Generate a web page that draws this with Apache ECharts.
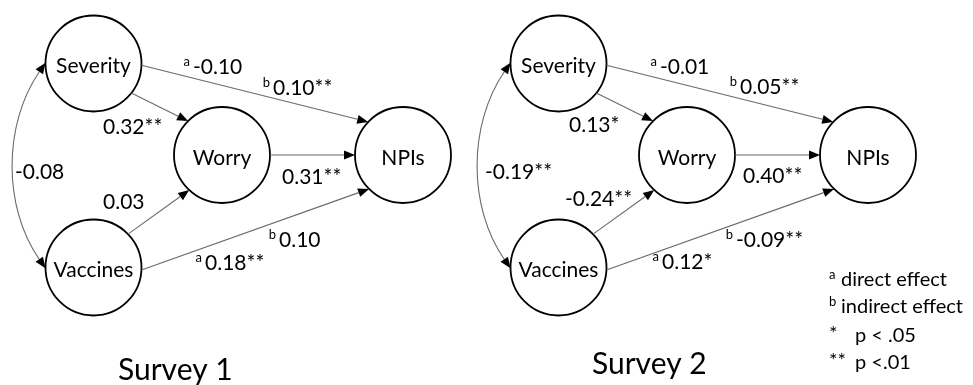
<!DOCTYPE html>
<html><head><meta charset="utf-8">
<script src="https://cdn.jsdelivr.net/npm/echarts@6/dist/echarts.min.js"></script>
<style>html,body{margin:0;padding:0;background:#fff}#c{width:973px;height:385px}</style>
</head><body><div id="c"></div>
<script>
// ---------------- data ----------------
const surveys = ['Survey 1', 'Survey 2'];
const nodeNames = ['Severity', 'Worry', 'NPIs', 'Vaccines'];
const severityToWorry = ['0.32**', '0.13*'];
const vaccinesToWorry = ['0.03', '-0.24**'];
const worryToNPIs = ['0.31**', '0.40**'];
const severityToNPIsDirect = ['-0.10', '-0.01'];
const severityToNPIsIndirect = ['0.10**', '0.05**'];
const vaccinesToNPIsDirect = ['0.18**', '0.12*'];
const vaccinesToNPIsIndirect = ['0.10', '-0.09**'];
const severityVaccinesCov = ['-0.08', '-0.19**'];
const legendMarks = ['a', 'b', '*', '**'];
const legendTexts = ['direct effect', 'indirect effect', 'p < .05', 'p <.01'];

// ---------------- layout (axis units, 1 unit = 1 px) ----------------
const FONT = 'Lato';
const R = 48;
const panelDx = [0, 465];
const nodePos = { Severity: [93.5, 63.5], Worry: [222, 155], NPIs: [403, 155], Vaccines: [93.5, 267.5] };
const pathLayout = [ // from, to, exit angle, entry angle (deg, clockwise from +x)
  ['Severity', 'NPIs', 2, -136.5],
  ['Severity', 'Worry', 38, -135],
  ['Worry', 'NPIs', 0, 180],
  ['Vaccines', 'Worry', -44, 133],
  ['Vaccines', 'NPIs', 3, 135]
];
const covLayout = { from: 'Severity', to: 'Vaccines', a0: 181, a1: 179, c1: [3, 125], c2: [3, 207] };
// label anchors [left, middle] per survey
const labelLayout = {
  sevNPIdir: [[193, 67], [660, 67]],
  sevNPIind: [[273, 88], [740, 87]],
  sevWorry: [[103, 127], [569, 125]],
  cov: [[15, 172], [485, 172]],
  worryNPI: [[282, 177], [743, 176]],
  vacWorry: [[103, 202], [565, 199]],
  vacNPIind: [[279, 240], [736, 240]],
  vacNPIdir: [[205, 263], [662, 262]]
};
const titleLayout = [[118, 370], [592, 364]];
const legendLayout = { markX: 829, textX: 841, starTextX: 855, ys: [280, 307, 336, 363] };

// ---------------- build marks ----------------
const rad = d => d * Math.PI / 180;
function onCircle(c, dx, ang) { return [c[0] + dx + R * Math.cos(rad(ang)), c[1] + R * Math.sin(rad(ang))]; }

const edgeSpecs = [];
surveys.forEach((s, i) => {
  const dx = panelDx[i];
  pathLayout.forEach(([f, t, a0, a1]) => {
    edgeSpecs.push({ kind: 'line', p0: onCircle(nodePos[f], dx, a0), p1: onCircle(nodePos[t], dx, a1) });
  });
  edgeSpecs.push({
    kind: 'curve',
    p0: onCircle(nodePos[covLayout.from], dx, covLayout.a0),
    p1: onCircle(nodePos[covLayout.to], dx, covLayout.a1),
    c1: [covLayout.c1[0] + dx, covLayout.c1[1]],
    c2: [covLayout.c2[0] + dx, covLayout.c2[1]]
  });
});
const edgeData = edgeSpecs.map(e => [e.p0[0], e.p0[1], e.p1[0], e.p1[1]]);

const nodeData = [];
surveys.forEach((s, i) => {
  nodeNames.forEach(n => nodeData.push({ name: n, value: [nodePos[n][0] + panelDx[i], nodePos[n][1]] }));
});

const textSpecs = [];
function addCoef(val, sup, pos) {
  textSpecs.push({ x: pos[0], y: pos[1], text: val, size: 21 });
  if (sup) textSpecs.push({ x: pos[0] - 3, y: pos[1] - 5, text: sup, size: 13, align: 'right' });
}
surveys.forEach((s, i) => {
  addCoef(severityToNPIsDirect[i], 'a', labelLayout.sevNPIdir[i]);
  addCoef(severityToNPIsIndirect[i], 'b', labelLayout.sevNPIind[i]);
  addCoef(severityToWorry[i], null, labelLayout.sevWorry[i]);
  addCoef(severityVaccinesCov[i], null, labelLayout.cov[i]);
  addCoef(worryToNPIs[i], null, labelLayout.worryNPI[i]);
  addCoef(vaccinesToWorry[i], null, labelLayout.vacWorry[i]);
  addCoef(vaccinesToNPIsIndirect[i], 'b', labelLayout.vacNPIind[i]);
  addCoef(vaccinesToNPIsDirect[i], 'a', labelLayout.vacNPIdir[i]);
  textSpecs.push({ x: titleLayout[i][0], y: titleLayout[i][1], text: s, size: 30 });
});
legendMarks.forEach((m, k) => {
  const y = legendLayout.ys[k];
  const isSup = m === 'a' || m === 'b';
  textSpecs.push({ x: legendLayout.markX, y: isSup ? y - 5 : y - 2, text: m, size: isSup ? 13 : 20 });
  textSpecs.push({ x: isSup ? legendLayout.textX : legendLayout.starTextX, y: y, text: legendTexts[k], size: 20 });
});
const textData = textSpecs.map(t => [t.x, t.y]);

// ---------------- renderers ----------------
const AL = 11, AW = 4.5;
function arrowHead(tip, dir) {
  const bx = tip[0] - AL * dir[0], by = tip[1] - AL * dir[1];
  const nx = -dir[1], ny = dir[0];
  return {
    base: [bx, by],
    el: { type: 'polygon', shape: { points: [tip, [bx + AW * nx, by + AW * ny], [bx - AW * nx, by - AW * ny]] }, style: { fill: '#000' } }
  };
}
function norm(a, b) { const dx = b[0] - a[0], dy = b[1] - a[1], l = Math.hypot(dx, dy); return [dx / l, dy / l]; }
function renderEdge(params, api) {
  const e = edgeSpecs[params.dataIndex];
  const p0 = api.coord(e.p0), p1 = api.coord(e.p1);
  const ls = { stroke: '#6a6a6a', lineWidth: 1.1, fill: null };
  if (e.kind === 'line') {
    const d = norm(p0, p1);
    const ah = arrowHead(p1, d);
    return { type: 'group', children: [
      { type: 'line', shape: { x1: p0[0], y1: p0[1], x2: ah.base[0], y2: ah.base[1] }, style: ls },
      ah.el
    ] };
  }
  const c1 = api.coord(e.c1), c2 = api.coord(e.c2);
  const hs = arrowHead(p0, norm(c1, p0));
  const he = arrowHead(p1, norm(c2, p1));
  return { type: 'group', children: [
    { type: 'bezierCurve', shape: { x1: hs.base[0], y1: hs.base[1], cpx1: c1[0], cpy1: c1[1], cpx2: c2[0], cpy2: c2[1], x2: he.base[0], y2: he.base[1] }, style: ls },
    hs.el, he.el
  ] };
}
function renderText(params, api) {
  const t = textSpecs[params.dataIndex];
  const p = api.coord([t.x, t.y]);
  return { type: 'text', x: p[0], y: p[1], style: { text: t.text, fill: '#000', fontSize: t.size, fontFamily: FONT, align: t.align || 'left', verticalAlign: 'middle' } };
}

const chart = echarts.init(document.getElementById('c'));
chart.setOption({
  animation: false,
  backgroundColor: '#fff',
  grid: { left: 0, right: 0, top: 0, bottom: 0 },
  xAxis: { type: 'value', min: 0, max: 973, show: false },
  yAxis: { type: 'value', min: 0, max: 385, inverse: true, show: false },
  series: [
    { type: 'custom', name: 'paths', data: edgeData, encode: { x: [0, 2], y: [1, 3] }, renderItem: renderEdge, z: 3, silent: true },
    { type: 'scatter', name: 'nodes', data: nodeData, symbol: 'circle', symbolSize: 2 * R, z: 2, silent: true,
      itemStyle: { color: '#fff', borderColor: '#000', borderWidth: 1.8, opacity: 1 },
      label: { show: true, position: 'inside', formatter: p => p.name, color: '#000', fontSize: 21, fontFamily: FONT, offset: [0, 3] } },
    { type: 'custom', name: 'labels', data: textData, encode: { x: 0, y: 1 }, renderItem: renderText, z: 4, silent: true }
  ]
});
</script></body></html>
